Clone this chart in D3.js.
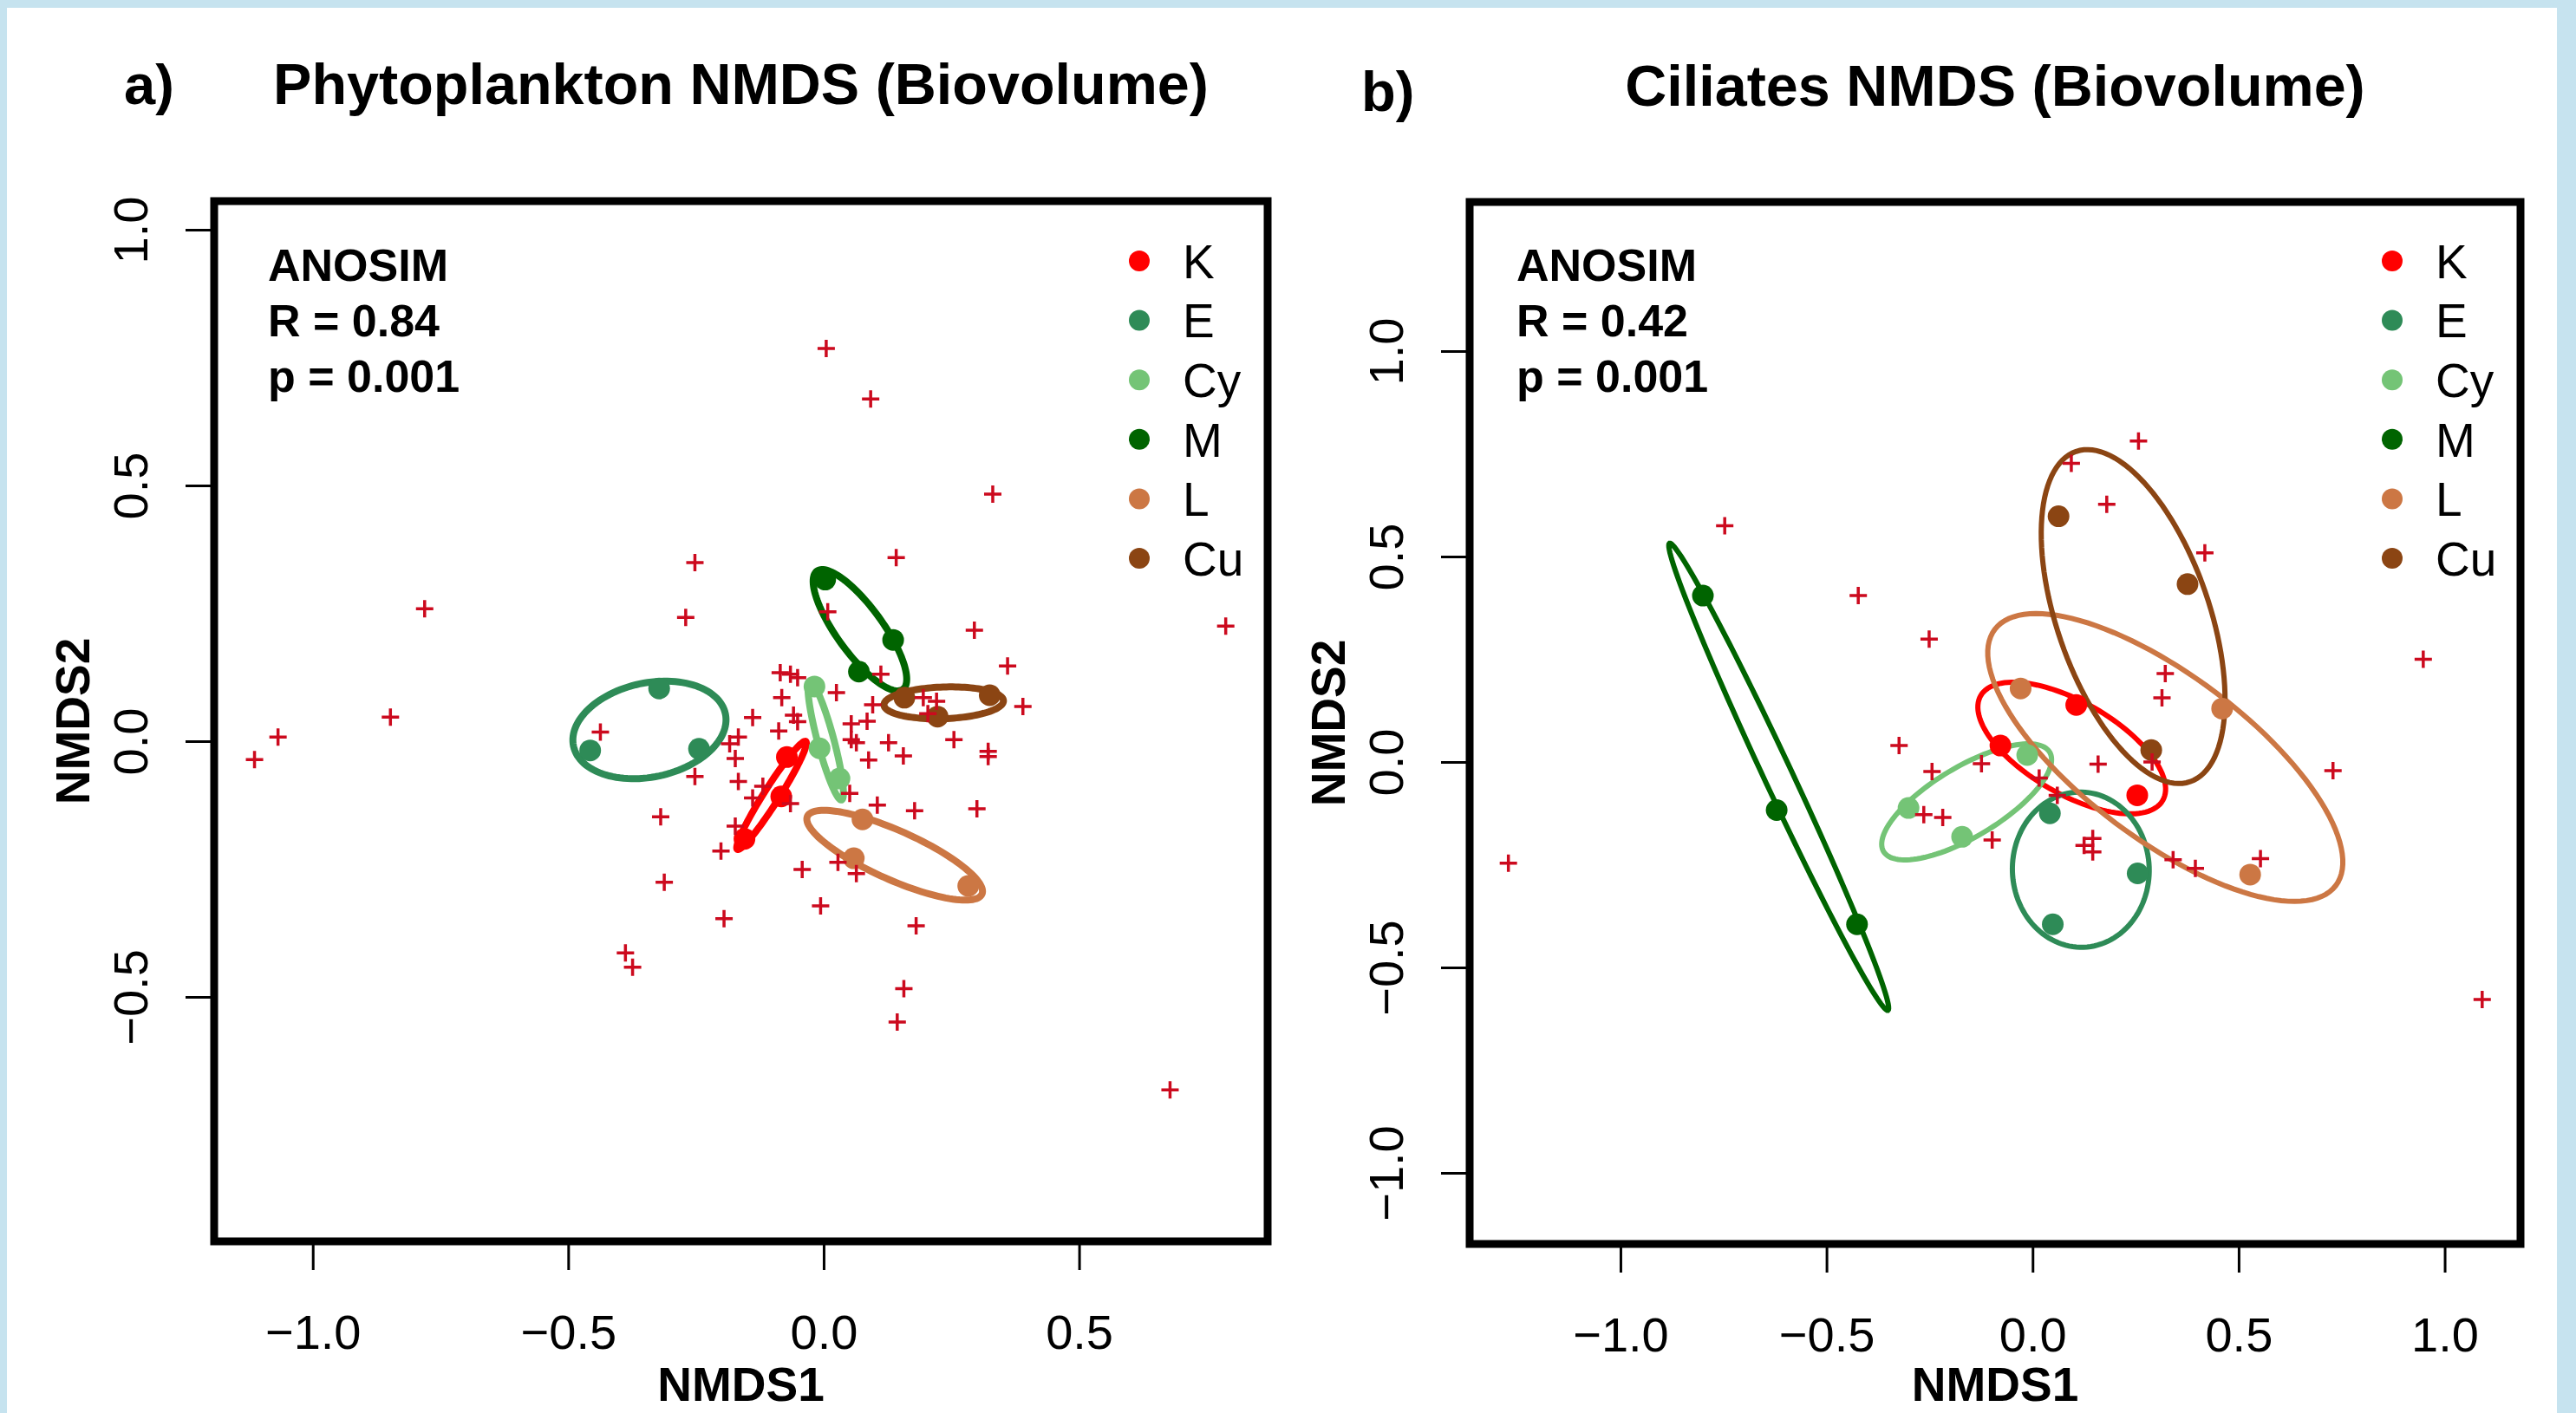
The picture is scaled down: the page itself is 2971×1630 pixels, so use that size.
<!DOCTYPE html>
<html>
<head>
<meta charset="utf-8">
<script src="https://cdn.jsdelivr.net/npm/d3@7"></script>
<style>
  body { margin: 0; background: #c6e3ef; }
  text { font-family: "Liberation Sans", Arial, sans-serif; }
</style>
</head>
<body>
<script>
// Groups and their colours (same order everywhere)
var groups = ["K", "E", "Cy", "M", "L", "Cu"];
var groupColors = ["#ff0000", "#2e8b57", "#74c476", "#006400", "#cc7744", "#8b4513"];

// Tick values
var phytoTicksX = [-1, -0.5, 0, 0.5];
var phytoTicksY = [-0.5, 0, 0.5, 1];
var ciliTicksX = [-1, -0.5, 0, 0.5, 1];
var ciliTicksY = [-1, -0.5, 0, 0.5, 1];

// a) Phytoplankton - species scores (red crosses), NMDS1 / NMDS2
var phytoSpecies = [
    [0.005, 0.768], [0.092, 0.669], [0.331, 0.483], [0.142, 0.359], [-0.252, 0.349],
    [-0.781, 0.259], [-0.270, 0.242], [0.008, 0.253], [0.295, 0.217], [0.787, 0.225],
    [0.360, 0.147], [0.112, 0.131], [-0.085, 0.134], [-0.065, 0.131], [-0.051, 0.124],
    [0.025, 0.095], [-0.082, 0.085], [0.390, 0.068], [-0.848, 0.047], [-1.068, 0.008],
    [-1.114, -0.036], [-0.437, 0.018], [-0.139, 0.046], [-0.059, 0.051], [-0.051, 0.038],
    [0.096, 0.071], [0.195, 0.085], [0.221, 0.078], [0.204, 0.054], [0.085, 0.039],
    [0.054, 0.034], [0.255, 0.003], [-0.167, 0.008], [-0.184, -0.005], [-0.088, 0.020],
    [0.054, 0.003], [0.064, -0.003], [0.127, -0.003], [0.156, -0.029], [0.088, -0.037],
    [0.322, -0.020], [0.322, -0.030], [-0.173, -0.034], [-0.252, -0.069], [-0.167, -0.079],
    [0.051, -0.102], [-0.139, -0.111], [-0.119, -0.088], [-0.065, -0.122], [0.105, -0.125],
    [0.178, -0.136], [0.300, -0.132], [-0.319, -0.148], [-0.173, -0.166], [-0.201, -0.215],
    [-0.042, -0.251], [0.028, -0.237], [0.064, -0.259], [-0.312, -0.276], [-0.006, -0.322],
    [-0.195, -0.347], [0.181, -0.361], [-0.388, -0.414], [-0.374, -0.442], [0.157, -0.484],
    [0.144, -0.549], [0.678, -0.682]
];

// a) site scores per group (K, E, Cy, M, L, Cu)
var phytoSites = [
    [[-0.072, -0.031], [-0.083, -0.108], [-0.155, -0.191]],
    [[-0.322, 0.103], [-0.457, -0.018], [-0.244, -0.015]],
    [[-0.018, 0.107], [-0.008, -0.014], [0.031, -0.073]],
    [[0.003, 0.316], [0.136, 0.198], [0.069, 0.136]],
    [[0.076, -0.153], [0.059, -0.229], [0.283, -0.283]],
    [[0.158, 0.085], [0.325, 0.090], [0.223, 0.048]]
];

// a) group ellipses: centre x, centre y, semi-major, semi-minor, angle (deg)
var phytoEllipses = [
    [-0.102, -0.106, 0.125, 0.015, 57.6],
    [-0.341, 0.022, 0.152, 0.092, 12],
    [0.004, 0.001, 0.120, 0.016, -75],
    [0.071, 0.217, 0.143, 0.045, -54],
    [0.139, -0.223, 0.187, 0.048, -24],
    [0.235, 0.075, 0.117, 0.031, 2]
];
var phytoStats = ["ANOSIM", "R = 0.84", "p = 0.001"];

// b) Ciliates - species scores
var ciliSpecies = [
    [0.257, 0.781], [0.094, 0.727], [0.180, 0.627], [0.418, 0.509], [-0.747, 0.575],
    [-0.423, 0.405], [-0.251, 0.299], [0.948, 0.250], [0.322, 0.215], [0.314, 0.156],
    [-0.324, 0.040], [-0.244, -0.023], [-0.124, -0.004], [0.159, -0.005], [0.729, -0.021],
    [-0.264, -0.128], [-0.218, -0.135], [-0.098, -0.190], [0.125, -0.203], [0.146, -0.186],
    [0.146, -0.219], [0.341, -0.238], [0.395, -0.259], [0.553, -0.235], [-1.272, -0.246],
    [1.091, -0.578], [0.290, 0.000], [0.016, -0.039], [0.060, -0.081]
];

// b) site scores per group
var ciliSites = [
    [[0.106, 0.139], [-0.078, 0.040], [0.254, -0.081]],
    [[0.042, -0.125], [0.255, -0.271], [0.049, -0.395]],
    [[-0.301, -0.112], [-0.171, -0.182], [-0.013, 0.017]],
    [[-0.800, 0.405], [-0.621, -0.117], [-0.426, -0.395]],
    [[-0.029, 0.179], [0.460, 0.130], [0.528, -0.274]],
    [[0.063, 0.598], [0.376, 0.433], [0.288, 0.029]]
];

// b) group ellipses
var ciliEllipses = [
    [0.095, 0.034, 0.255, 0.112, -30],
    [0.117, -0.262, 0.189, 0.166, 92],
    [-0.160, -0.097, 0.235, 0.085, 31],
    [-0.616, -0.036, 0.627, 0.034, -65],
    [0.322, 0.011, 0.518, 0.200, -37],
    [0.244, 0.354, 0.425, 0.185, 109]
];
var ciliStats = ["ANOSIM", "R = 0.42", "p = 0.001"];

var width = 2971, height = 1630;

var svg = d3.select("body")
    .append("svg")
    .attr("width", width)
    .attr("height", height);

svg.append("rect")
    .attr("width", width)
    .attr("height", height)
    .attr("fill", "#c6e3ef");

svg.append("rect")
    .attr("x", 8)
    .attr("y", 9)
    .attr("width", 2941)
    .attr("height", height - 9)
    .attr("fill", "#ffffff");

drawPanel({
    left: 247, right: 1462, top: 232, bottom: 1432,
    xDomain: [-1.193, 0.869], yDomain: [-0.978, 1.056],
    xTicks: phytoTicksX, yTicks: phytoTicksY,
    species: phytoSpecies, sites: phytoSites, ellipses: phytoEllipses, stats: phytoStats,
    title: "Phytoplankton NMDS (Biovolume)", titleY: 120,
    letter: "a)", letterX: 143, letterY: 120,
    statsX: 309, ellipseWidth: 8
});

drawPanel({
    left: 1695, right: 2907, top: 233, bottom: 1435,
    xDomain: [-1.366, 1.184], yDomain: [-1.173, 1.363],
    xTicks: ciliTicksX, yTicks: ciliTicksY,
    species: ciliSpecies, sites: ciliSites, ellipses: ciliEllipses, stats: ciliStats,
    title: "Ciliates NMDS (Biovolume)", titleY: 122,
    letter: "b)", letterX: 1570, letterY: 128,
    statsX: 1749, ellipseWidth: 6
});

function drawPanel(p) {

    var xScale = d3.scaleLinear().domain(p.xDomain).range([p.left, p.right]);
    var yScale = d3.scaleLinear().domain(p.yDomain).range([p.bottom, p.top]);
    var fmt = d3.format(".1f");

    var g = svg.append("g");

    // x axis
    var xAxis = d3.axisBottom(xScale)
        .tickValues(p.xTicks)
        .tickFormat(fmt)
        .tickSize(33)
        .tickPadding(51);

    var gx = g.append("g")
        .attr("transform", "translate(0," + p.bottom + ")")
        .call(xAxis);
    gx.select(".domain").remove();
    gx.attr("font-family", null).attr("font-size", null);
    gx.selectAll("line").attr("stroke", "#000").attr("stroke-width", 3);
    gx.selectAll("text").style("font-size", "56px").attr("fill", "#000");

    // y axis, labels parallel to the axis
    var yAxis = d3.axisLeft(yScale)
        .tickValues(p.yTicks)
        .tickFormat(fmt)
        .tickSize(33);

    var gy = g.append("g")
        .attr("transform", "translate(" + p.left + ",0)")
        .call(yAxis);
    gy.select(".domain").remove();
    gy.attr("font-family", null).attr("font-size", null);
    gy.selectAll("line").attr("stroke", "#000").attr("stroke-width", 3);
    gy.selectAll("text")
        .attr("x", 0)
        .attr("dy", null)
        .attr("text-anchor", "middle")
        .attr("transform", "translate(-77,0) rotate(-90)")
        .style("font-size", "56px")
        .attr("fill", "#000");

    // axis titles
    g.append("text")
        .attr("x", (p.left + p.right) / 2)
        .attr("y", 1616)
        .attr("text-anchor", "middle")
        .style("font-size", "55px")
        .style("font-weight", "bold")
        .text("NMDS1");

    g.append("text")
        .attr("transform", "translate(" + (p.left - 144) + "," + (p.top + p.bottom) / 2 + ") rotate(-90)")
        .attr("text-anchor", "middle")
        .style("font-size", "55px")
        .style("font-weight", "bold")
        .text("NMDS2");

    // titles
    g.append("text")
        .attr("x", (p.left + p.right) / 2)
        .attr("y", p.titleY)
        .attr("text-anchor", "middle")
        .style("font-size", "66.5px")
        .style("font-weight", "bold")
        .text(p.title);

    g.append("text")
        .attr("x", p.letterX)
        .attr("y", p.letterY)
        .style("font-size", "65px")
        .style("font-weight", "bold")
        .text(p.letter);

    // ellipses
    var steps = d3.range(0, 361, 3);
    var line = d3.line()
        .x(function(d) { return xScale(d[0]); })
        .y(function(d) { return yScale(d[1]); });

    g.selectAll(".ellipse")
        .data(p.ellipses)
        .enter()
        .append("path")
        .attr("class", "ellipse")
        .attr("fill", "none")
        .attr("stroke", function(d, i) { return groupColors[i]; })
        .attr("stroke-width", p.ellipseWidth)
        .attr("d", function(e) {
            var th = e[4] * Math.PI / 180;
            var pts = steps.map(function(t) {
                var r = t * Math.PI / 180,
                    u = e[2] * Math.cos(r),
                    v = e[3] * Math.sin(r);
                return [e[0] + u * Math.cos(th) - v * Math.sin(th),
                        e[1] + u * Math.sin(th) + v * Math.cos(th)];
            });
            return line(pts) + "Z";
        });

    // site points
    p.sites.forEach(function(pts, i) {
        g.selectAll(".site-" + i)
            .data(pts)
            .enter()
            .append("circle")
            .attr("class", "site-" + i)
            .attr("cx", function(d) { return xScale(d[0]); })
            .attr("cy", function(d) { return yScale(d[1]); })
            .attr("r", 12.5)
            .attr("fill", groupColors[i]);
    });

    // species crosses
    g.selectAll(".species")
        .data(p.species)
        .enter()
        .append("path")
        .attr("class", "species")
        .attr("transform", function(d) { return "translate(" + xScale(d[0]) + "," + yScale(d[1]) + ")"; })
        .attr("d", "M-10,0H10M0,-10V10")
        .attr("stroke", "#cc0a1e")
        .attr("stroke-width", 3.5);

    // box
    g.append("rect")
        .attr("x", p.left)
        .attr("y", p.top)
        .attr("width", p.right - p.left)
        .attr("height", p.bottom - p.top)
        .attr("fill", "none")
        .attr("stroke", "#000")
        .attr("stroke-width", 9);

    // ANOSIM text
    g.selectAll(".stat")
        .data(p.stats)
        .enter()
        .append("text")
        .attr("class", "stat")
        .attr("x", p.statsX)
        .attr("y", function(d, i) { return 324 + i * 64; })
        .style("font-size", "52px")
        .style("font-weight", "bold")
        .text(function(d) { return d; });

    // legend
    var legend = g.selectAll(".legend")
        .data(groups)
        .enter()
        .append("g")
        .attr("class", "legend")
        .attr("transform", function(d, i) { return "translate(0," + (301 + i * 68.6) + ")"; });

    legend.append("circle")
        .attr("cx", p.right - 148)
        .attr("r", 12)
        .attr("fill", function(d, i) { return groupColors[i]; });

    legend.append("text")
        .attr("x", p.right - 98)
        .attr("dy", "0.36em")
        .style("font-size", "55px")
        .text(function(d) { return d; });
}
</script>
</body>
</html>
